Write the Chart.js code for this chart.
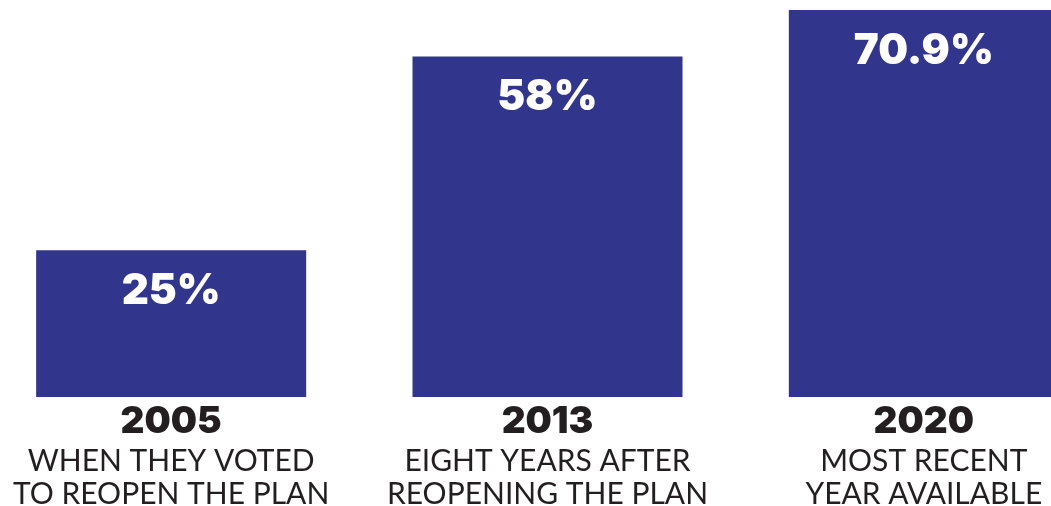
<!DOCTYPE html>
<html>
<head>
<meta charset="utf-8">
<script src="https://cdn.jsdelivr.net/npm/chart.js@4.4.1/dist/chart.umd.min.js"></script>
<style>
  html, body { margin: 0; padding: 0; background: #ffffff; overflow: hidden; width: 1051px; height: 506px; }
  #wrap { position: absolute; left: -17px; top: 0; width: 1129px; height: 506px; }
</style>
</head>
<body>
<div id="wrap"><canvas id="c"></canvas></div>
<script>
const categories = ['2005', '2013', '2020'];
const subtitles = [
  ['WHEN THEY VOTED', 'TO REOPEN THE PLAN'],
  ['EIGHT YEARS AFTER', 'REOPENING THE PLAN'],
  ['MOST RECENT', 'YEAR AVAILABLE']
];
const values = [25, 58, 70.9];
const valueLabels = ['25%', '58%', '70.9%'];

const BAR_COLOR = '#31358b';
const TEXT_COLOR = '#231f20';

const valueLabelPlugin = {
  id: 'valueLabels',
  afterDatasetsDraw(chart) {
    const ctx = chart.ctx;
    const meta = chart.getDatasetMeta(0);
    const area = chart.chartArea;
    ctx.save();
    ctx.fillStyle = '#ffffff';
    ctx.font = '900 42px Inter';
    ctx.textAlign = 'center';
    ctx.textBaseline = 'middle';
    meta.data.forEach((el, i) => {
      const top = Math.max(el.y, area.top);
      ctx.fillText(valueLabels[i], el.x, top + 41);
    });
    ctx.restore();
  }
};

new Chart(document.getElementById('c'), {
  type: 'bar',
  data: {
    labels: categories,
    datasets: [{
      data: values,
      backgroundColor: BAR_COLOR,
      borderWidth: 0,
      categoryPercentage: 1,
      barPercentage: 0.7175,
      clip: 0,
      xAxisID: 'x',
      yAxisID: 'y'
    }]
  },
  options: {
    responsive: true,
    maintainAspectRatio: false,
    animation: false,
    layout: { padding: { top: 10, left: 0, right: 0, bottom: 0 } },
    plugins: {
      legend: { display: false },
      tooltip: { enabled: false },
      title: { display: false }
    },
    scales: {
      y: {
        display: false,
        min: 0,
        max: 65.9
      },
      x: {
        type: 'category',
        labels: categories,
        position: 'bottom',
        weight: 0,
        offset: true,
        grid: { display: false, drawTicks: false, offset: true },
        border: { display: false },
        ticks: {
          color: TEXT_COLOR,
          font: { family: 'Inter', weight: '900', size: 37, lineHeight: 1 },
          padding: 6,
          maxRotation: 0,
          autoSkip: false
        },
        afterFit(s) { s.height = 44; }
      },
      x2: {
        type: 'category',
        labels: subtitles,
        position: 'bottom',
        weight: 1,
        offset: true,
        grid: { display: false, drawTicks: false, offset: true },
        border: { display: false },
        ticks: {
          color: TEXT_COLOR,
          font: { family: 'Lato', weight: '400', size: 30, lineHeight: 1.1 },
          padding: 4,
          maxRotation: 0,
          autoSkip: false
        },
        afterFit(s) { s.height = 65; }
      }
    }
  },
  plugins: [valueLabelPlugin]
});
</script>
</body>
</html>
